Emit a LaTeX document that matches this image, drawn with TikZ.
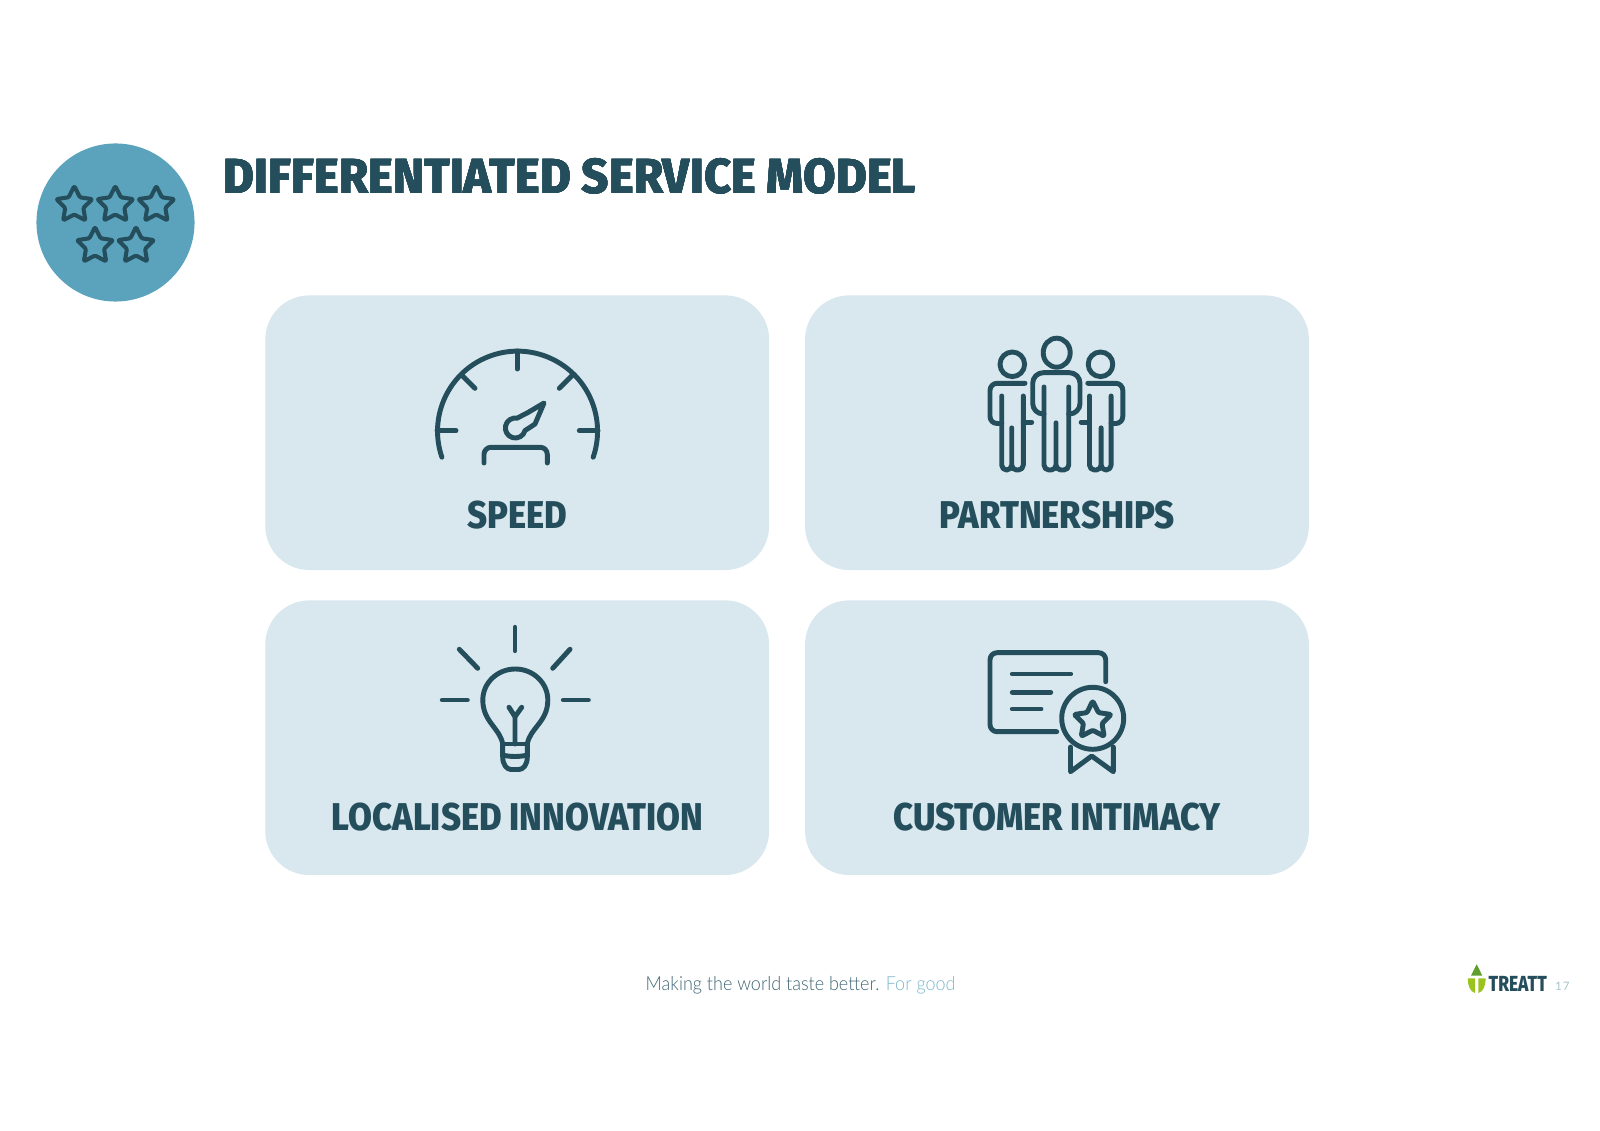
\documentclass[tikz,border=0pt]{standalone}
\usepackage{fontspec}
\setmainfont{Lato}
\newfontfamily\headfont[FakeStretch=0.96]{Fira Sans ExtraBold}
\newfontfamily\labelfont[FakeStretch=0.895]{Fira Sans ExtraBold}
\newfontfamily\logofont[FakeStretch=0.80]{Fira Sans ExtraBold}
\newfontfamily\sloganfont[FakeStretch=0.93]{Lato Light}
\definecolor{ink}{HTML}{254E5C}
\definecolor{card}{HTML}{D8E8EE}
\definecolor{badge}{HTML}{5BA3BC}
\definecolor{slogan}{HTML}{3F6675}
\definecolor{forgood}{HTML}{7FB8CB}
\definecolor{pagenum}{HTML}{A9C3CD}
\definecolor{leaftop}{HTML}{5F9E2E}
\definecolor{leaflow}{HTML}{9BC31E}
\newcommand{\iconstar}[4]{\draw[#4, rounded corners=0.35pt, shift={(#1,#2)}] (-90:#3) -- (-54:0.5*#3) -- (-18:#3) -- (18:0.5*#3) -- (54:#3) -- (90:0.5*#3) -- (126:#3) -- (162:0.5*#3) -- (198:#3) -- (234:0.5*#3) -- cycle;}
\newcommand{\sideperson}{
	\draw[iconline] (1012.3,364.3) circle[radius=12.3];
	\draw[iconline, rounded corners=2pt] (1025,383.3) -- (990,383.3) -- (990,423.5) -- (1001.7,423.5);
	\draw[iconline, rounded corners=1.4pt] (1001.7,396) -- (1001.7,470) -- (1011.7,470) -- (1011.7,425) -- (1011.7,470) -- (1023.3,470) -- (1023.3,396);
	\draw[iconline] (1023.3,422.3) -- (1031.7,422.3);
}
\begin{document}
\begin{tikzpicture}[x=0.01cm, y=-0.01cm,
	iconline/.style={draw=ink, line width=1.4pt, line cap=round, line join=round},
	thinline/.style={draw=ink, line width=1.15pt, line cap=round, line join=round},
	cardbox/.style={rectangle, fill=card, rounded corners=0.44cm, minimum width=5.035cm, minimum height=2.745cm, inner sep=0pt},
	cardlabel/.style={text=ink, inner sep=0pt, font=\labelfont\fontsize{11}{13}\selectfont}]
	\useasboundingbox (0,0) rectangle (1600,1131);

	% header
	\node[circle, fill=badge, minimum size=1.58cm, inner sep=0pt] at (115.5,222.5) (badge) {};
	\foreach \x/\y in {74.3/205, 115.3/205, 156.3/205, 95/246, 136/246}
		\iconstar{\x}{\y}{19}{thinline}
	\node[anchor=west, text=ink, inner sep=0pt, font=\headfont\fontsize{14}{16}\selectfont] at (223,176.2) (title) {DIFFERENTIATED SERVICE MODEL};

	% cards
	\node[cardbox] at (517.2,432.7) (speedbox) {};
	\node[cardbox] at (1057,432.7) (partnerbox) {};
	\node[cardbox] at (517.2,737.7) (innovationbox) {};
	\node[cardbox] at (1057,737.7) (intimacybox) {};
	\node[cardlabel] at (517.5,514.7) (speedlabel) {SPEED};
	\node[cardlabel] at (1057.3,514.7) (partnerlabel) {PARTNERSHIPS};
	\node[cardlabel] at (517.5,817) (innovationlabel) {LOCALISED INNOVATION};
	\node[cardlabel] at (1057.3,817) (intimacylabel) {CUSTOMER INTIMACY};

	% gauge
	\draw[iconline] (441.9,457.2) arc[start angle=161, end angle=379, radius=80];
	\draw[iconline] (517.3,351) -- (517.3,369);
	\draw[iconline] (461.7,375) -- (475,388.3);
	\draw[iconline] (572.7,375) -- (559.3,388.3);
	\draw[iconline] (437,430.7) -- (456,430.7);
	\draw[iconline] (598,430.7) -- (579.3,430.7);
	\draw[iconline] (525,430.6) arc[start angle=15, end angle=280, radius=10] -- (528,412.5) -- (544,403) -- (535,424) -- cycle;
	\draw[iconline, rounded corners=2pt] (484,463) -- (484,447.3) -- (547.3,447.3) -- (547.3,463);

	% people
	\draw[iconline] (1056.7,352.7) ellipse[x radius=13.5, y radius=14.5];
	\draw[iconline, rounded corners=3pt] (1044,414) -- (1032.7,414) -- (1032.7,372.7) -- (1080,372.7) -- (1080,414) -- (1068.7,414);
	\draw[iconline, rounded corners=1.4pt] (1044,387) -- (1044,470) -- (1056,470) -- (1056,420) -- (1056,470) -- (1068.7,470) -- (1068.7,387);
	\sideperson
	\begin{scope}[shift={(2112.8,0)}, xscale=-1]
		\sideperson
	\end{scope}

	% bulb
	\draw[iconline] (515,627.3) -- (515,650.7);
	\draw[iconline] (459.3,649.3) -- (477.7,668.3);
	\draw[iconline] (570,649.3) -- (552.7,668.3);
	\draw[iconline] (442.3,700) -- (467.3,700);
	\draw[iconline] (563.3,700) -- (588.3,700);
	\draw[iconline] (502.7,744) .. controls (500,728) and (482.8,722) .. (482.8,700) arc[start angle=180, end angle=360, x radius=32.5, y radius=31] .. controls (547.8,722) and (530,728) .. (527.3,744);
	\draw[iconline] (515,744) -- (515,716.7) -- (509,707.3);
	\draw[iconline] (515,716.7) -- (521.7,707.3);
	\draw[iconline] (502.7,744) -- (527.3,744);
	\draw[iconline] (502.7,744) -- (502.7,757) .. controls (502.7,765) and (507,769.5) .. (511,769.5) -- (519,769.5) .. controls (523,769.5) and (527.3,765) .. (527.3,757) -- (527.3,744);
	\draw[iconline] (502.7,755) .. controls (510,757) and (520,757) .. (527.3,755);

	% certificate
	\draw[iconline, rounded corners=2pt] (1056.7,731.7) -- (990,731.7) -- (990,652.7) -- (1105.7,652.7) -- (1105.7,681.7);
	\draw[iconline] (1012.3,674) -- (1070.7,674);
	\draw[iconline] (1012.3,692.3) -- (1050.7,692.3);
	\draw[iconline] (1012.3,709) -- (1041,709);
	\draw[iconline] (1092.7,718.3) circle[radius=31];
	\iconstar{1092.7}{720.5}{19.5}{iconline}
	\draw[iconline] (1070.5,747) -- (1070.5,771.7) -- (1091.7,756) -- (1113.3,771.7) -- (1113.3,747);

	% footer
	\node[anchor=base west, text=slogan, inner sep=0pt, font=\sloganfont\fontsize{5.5}{7}\selectfont] at (645,990.3) (slogan) {Making the world taste better. \textcolor{forgood}{For good}};
	\fill[leaftop] (1476.7,964.3) -- (1482.3,975.7) -- (1471,975.7) -- cycle;
	\fill[leaflow] (1467.7,978.3) -- (1475,978.3) -- (1475,993) .. controls (1470,992) and (1467.7,985) .. (1467.7,978.3) -- cycle;
	\fill[leaflow] (1485.7,978.3) -- (1478.3,978.3) -- (1478.3,993) .. controls (1483.5,992) and (1485.7,985) .. (1485.7,978.3) -- cycle;
	\node[anchor=base west, text=ink, inner sep=0pt, font=\logofont\fontsize{6.2}{8}\selectfont] at (1488,991) (treatt) {TREATT};
	\node[anchor=base west, text=pagenum, inner sep=0pt, font=\fontsize{3.3}{5}\selectfont] at (1554.3,990) (pageno) {1\kern0.3pt 7};
\end{tikzpicture}
\end{document}
